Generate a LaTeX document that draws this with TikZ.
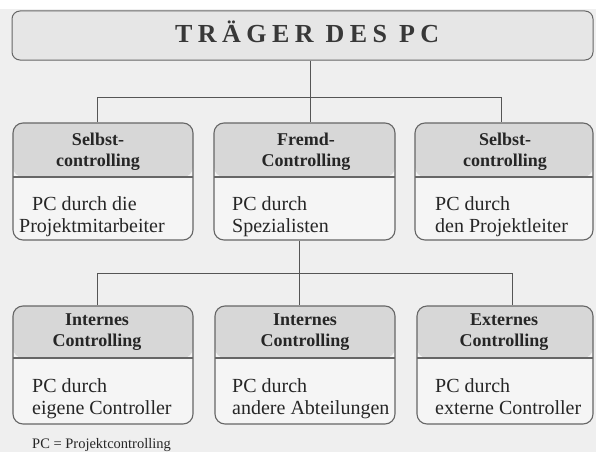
\documentclass[tikz,border=0pt]{standalone}
\usepackage{fontspec}
\setmainfont{Liberation Serif}
\definecolor{bgcol}{HTML}{EFEFEF}
\definecolor{topfill}{HTML}{E6E6E6}
\definecolor{headfill}{HTML}{D7D7D7}
\definecolor{bodyfill}{HTML}{F5F5F5}
\definecolor{boxline}{HTML}{666666}
\definecolor{conline}{HTML}{555555}
\definecolor{txt}{HTML}{262626}
\begin{document}
\begin{tikzpicture}[x=1pt,y=-1pt,
  cbox/.style={draw=boxline, line width=1.1pt, rounded corners=10pt, fill=bodyfill,
    minimum height=117pt, inner sep=0pt,
    path picture={\fill[headfill] (path picture bounding box.north west) rectangle ([yshift=-#1]path picture bounding box.north east);
      \draw[boxline, line width=1.1pt] ([yshift=-#1]path picture bounding box.north west) -- ([yshift=-#1]path picture bounding box.north east);}},
  hdr/.style={anchor=base, align=center, inner sep=0pt, text=txt, font=\fontsize{18}{20.5}\selectfont\bfseries},
  bodytxt/.style={anchor=base west, align=left, inner sep=0pt, text=txt, font=\fontsize{20}{22}\selectfont},
  con/.style={draw=conline, line width=0.9pt}
]
\useasboundingbox (0,0) rectangle (596,452);
\fill[white] (0,0) rectangle (596,452);
\fill[bgcol] (0,9) rectangle (596,452);

% top box
\node[draw=boxline, line width=1pt, rounded corners=8pt, fill=topfill, minimum width=581pt, minimum height=49pt, inner sep=0pt] (top) at (302.5,35.5) {};
\node[anchor=base west, inner sep=0pt, text=black!78] (title) at (175,42) {\fontsize{26}{30}\selectfont\bfseries\addfontfeature{LetterSpace=21}TRÄGER DES PC};

% row 1
\node[cbox=54pt, minimum width=180pt] (l1) at (103,181.5) {};
\node[cbox=54pt, minimum width=181pt] (m1) at (304.5,181.5) {};
\node[cbox=54pt, minimum width=178pt] (r1) at (504,181.5) {};
% row 2
\node[cbox=52pt, minimum width=180pt, minimum height=118pt] (l2) at (103,365) {};
\node[cbox=52pt, minimum width=180pt, minimum height=118pt] (m2) at (305,365) {};
\node[cbox=52pt, minimum width=176pt, minimum height=118pt] (r2) at (505,365) {};

% connectors
\coordinate (j1) at (310,97);
\coordinate (a1) at (97,97);
\coordinate (b1) at (501,97);
\draw[con] (top.south -| j1) -- (m1.north -| j1);
\draw[con] (l1.north -| a1) -- (a1) -- (b1) -- (r1.north -| b1);
\coordinate (j2) at (299,273);
\coordinate (a2) at (97,273);
\coordinate (b2) at (512,273);
\draw[con] (m1.south -| j2) -- (m2.north -| j2);
\draw[con] (l2.north -| a2) -- (a2) -- (b2) -- (r2.north -| b2);

% header texts (anchor = baseline of last line)
\node[hdr] (l1h) at (98,166) {Selbst-\\controlling};
\node[hdr] (m1h) at (306,166) {Fremd-\\Controlling};
\node[hdr] (r1h) at (505,166) {Selbst-\\controlling};
\node[hdr] (l2h) at (97,346) {Internes\\Controlling};
\node[hdr] (m2h) at (305,346) {Internes\\Controlling};
\node[hdr] (r2h) at (504,346) {Externes\\Controlling};

% body texts
\node[bodytxt] (l1b) at (32,232) {PC durch die\\\hspace*{-13pt}Projektmitarbeiter};
\node[bodytxt] (m1b) at (232,232) {PC durch\\Spezialisten};
\node[bodytxt] (r1b) at (435,232) {PC durch\\den Projektleiter};
\node[bodytxt] (l2b) at (32,414) {PC durch\\eigene Controller};
\node[bodytxt] (m2b) at (232,414) {PC durch\\andere Abteilungen};
\node[bodytxt] (r2b) at (435,414) {PC durch\\externe Controller};

% footnote
\node[anchor=base west, inner sep=0pt, text=txt, font=\fontsize{14.5}{16}\selectfont] (foot) at (32,448.5) {PC = Projektcontrolling};
\end{tikzpicture}
\end{document}
